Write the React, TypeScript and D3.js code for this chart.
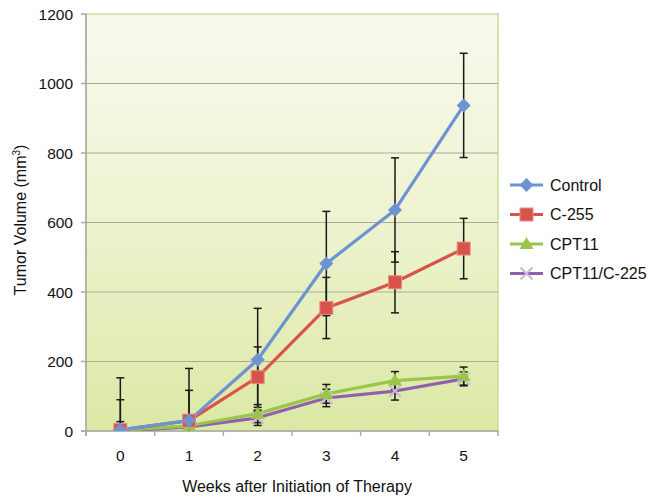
import React, { useEffect, useRef } from 'react';
import * as d3 from 'd3';

const weeks = ['0', '1', '2', '3', '4', '5'];
const seriesNames = ['Control', 'C-255', 'CPT11', 'CPT11/C-225'];
const controlValues = [3, 30, 205, 482, 636, 937];
const c255Values = [3, 30, 155, 354, 428, 525];
const cpt11Values = [2, 15, 50, 107, 145, 158];
const comboValues = [0, 12, 38, 95, 115, 150];
const controlErr = [150, 150, 148, 150, 150, 150];
const c255Err = [87, 87, 87, 88, 88, 87];
const cpt11Err = [25, 25, 26, 27, 26, 26];
const comboErr = [20, 20, 22, 25, 26, 20];
const yTicks = [0, 200, 400, 600, 800, 1000, 1200];

export default function App() {
  const svgRef = useRef<SVGSVGElement | null>(null);

  useEffect(() => {
    if (!svgRef.current) return;
    const width = 664;
    const height = 496;
    const left = 86, right = 498, top = 14, bottom = 431;

    const svg = d3.select(svgRef.current);
    svg.selectAll('*').remove();
    svg.attr('width', width).attr('height', height);

    const x = d3.scaleBand().domain(weeks).range([left, right]);
    const y = d3.scaleLinear().domain([0, 1200]).range([bottom, top]);
    const cx = (w: string) => (x(w) as number) + x.bandwidth() / 2;

    const defs = svg.append('defs');
    const grad = defs.append('linearGradient')
      .attr('id', 'bg').attr('x1', 0).attr('y1', 0).attr('x2', 0).attr('y2', 1);
    grad.append('stop').attr('offset', '0%').attr('stop-color', '#f8f9ee');
    grad.append('stop').attr('offset', '50%').attr('stop-color', '#eef3cf');
    grad.append('stop').attr('offset', '100%').attr('stop-color', '#dbe8a4');
    defs.append('clipPath').attr('id', 'plot')
      .append('rect').attr('x', left).attr('y', top - 2).attr('width', right - left).attr('height', bottom - top + 2);

    svg.append('rect')
      .attr('x', left).attr('y', top).attr('width', right - left).attr('height', bottom - top)
      .attr('fill', 'url(#bg)').attr('stroke', '#c8dc9a').attr('stroke-width', 1.5);

    // gridlines
    svg.append('g').selectAll('line').data(yTicks.filter(t => t > 0 && t < 1200)).enter()
      .append('line')
      .attr('x1', left).attr('x2', right)
      .attr('y1', d => y(d)).attr('y2', d => y(d))
      .attr('stroke', '#a8ab9c').attr('stroke-width', 1.2);

    // axes
    svg.append('line').attr('x1', left).attr('x2', left).attr('y1', top).attr('y2', bottom + 5)
      .attr('stroke', '#a9a9a9').attr('stroke-width', 1.5);
    svg.append('line').attr('x1', left - 5).attr('x2', right).attr('y1', bottom).attr('y2', bottom)
      .attr('stroke', '#a9a9a9').attr('stroke-width', 1.5);
    svg.append('g').selectAll('line').data(yTicks).enter().append('line')
      .attr('x1', left - 5).attr('x2', left).attr('y1', d => y(d)).attr('y2', d => y(d))
      .attr('stroke', '#a9a9a9').attr('stroke-width', 1.5);
    const bounds = weeks.map(w => x(w) as number).concat([right]);
    svg.append('g').selectAll('line').data(bounds).enter().append('line')
      .attr('x1', d => d).attr('x2', d => d).attr('y1', bottom).attr('y2', bottom + 5)
      .attr('stroke', '#a9a9a9').attr('stroke-width', 1.5);

    const font = "'Liberation Sans', Arial, sans-serif";
    svg.append('g').selectAll('text').data(yTicks).enter().append('text')
      .attr('x', 73).attr('y', d => y(d)).attr('dy', '0.36em')
      .attr('text-anchor', 'end').attr('font-family', font).attr('font-size', 15.5).attr('fill', '#111')
      .text(d => String(d));
    svg.append('g').selectAll('text').data(weeks).enter().append('text')
      .attr('x', d => cx(d)).attr('y', 455).attr('dy', '0.36em')
      .attr('text-anchor', 'middle').attr('font-family', font).attr('font-size', 15.5).attr('fill', '#111')
      .text(d => d);

    svg.append('text').attr('x', 297).attr('y', 486).attr('dy', '0.35em')
      .attr('text-anchor', 'middle').attr('font-family', font).attr('font-size', 16).attr('fill', '#111')
      .text('Weeks after Initiation of Therapy');
    const yl = svg.append('text').attr('transform', 'translate(20,220) rotate(-90)')
      .attr('text-anchor', 'middle').attr('dy', '0.35em')
      .attr('font-family', font).attr('font-size', 16).attr('fill', '#111');
    yl.append('tspan').text('Tumor Volume (mm');
    yl.append('tspan').attr('font-size', 10).attr('dy', '-0.6em').text('3');
    yl.append('tspan').attr('dy', '0.38em').text(')');

    const series = [
      { name: seriesNames[0], values: controlValues, err: controlErr, color: '#6d93d3', marker: 'diamond' },
      { name: seriesNames[1], values: c255Values, err: c255Err, color: '#d9534b', marker: 'square' },
      { name: seriesNames[2], values: cpt11Values, err: cpt11Err, color: '#99c64a', marker: 'triangle' },
      { name: seriesNames[3], values: comboValues, err: comboErr, color: '#9060ad', marker: 'x' },
    ];

    const drawMarker = (g: any, type: string, px: number, py: number, color: string) => {
      if (type === 'diamond') {
        g.append('path').attr('d', `M${px},${py - 7}L${px + 7},${py}L${px},${py + 7}L${px - 7},${py}Z`).attr('fill', color);
      } else if (type === 'square') {
        g.append('rect').attr('x', px - 6.5).attr('y', py - 6.5).attr('width', 13).attr('height', 13)
          .attr('fill', color).attr('stroke', '#e88d87').attr('stroke-width', 1);
      } else if (type === 'triangle') {
        g.append('path').attr('d', `M${px},${py - 7}L${px + 7},${py + 5}L${px - 7},${py + 5}Z`).attr('fill', color);
      } else {
        g.append('path').attr('d', `M${px - 6},${py - 6}L${px + 6},${py + 6}M${px - 6},${py + 6}L${px + 6},${py - 6}`)
          .attr('stroke', '#c9b6d8').attr('stroke-width', 2);
      }
    };

    const plot = svg.append('g').attr('clip-path', 'url(#plot)');

    // error bars
    series.forEach(s => {
      const eg = plot.append('g');
      weeks.forEach((w, i) => {
        const hi = y(s.values[i] + s.err[i]);
        const lo = y(s.values[i] - s.err[i]);
        const px = cx(w);
        eg.append('line').attr('x1', px).attr('x2', px).attr('y1', hi).attr('y2', lo)
          .attr('stroke', '#1a1a1a').attr('stroke-width', 1.5);
        [hi, lo].forEach(v => {
          eg.append('line').attr('x1', px - 4).attr('x2', px + 4).attr('y1', v).attr('y2', v)
            .attr('stroke', '#1a1a1a').attr('stroke-width', 1.5);
        });
      });
    });

    const line = d3.line<number>().x((_, i) => cx(weeks[i])).y(d => y(d));
    [...series].reverse().forEach(s => {
      plot.append('path').datum(s.values).attr('d', line).attr('fill', 'none')
        .attr('stroke', s.color).attr('stroke-width', 3.2).attr('stroke-linejoin', 'round');
    });
    [...series].reverse().forEach(s => {
      const mg = plot.append('g');
      s.values.forEach((v, i) => drawMarker(mg, s.marker, cx(weeks[i]), y(v), s.color));
    });

    // legend
    const lg = svg.append('g');
    series.forEach((s, i) => {
      const ly = 185 + i * 29.5;
      lg.append('line').attr('x1', 510).attr('x2', 543).attr('y1', ly).attr('y2', ly)
        .attr('stroke', s.color).attr('stroke-width', 3.2);
      drawMarker(lg, s.marker, 526.5, ly, s.color);
      lg.append('text').attr('x', 550).attr('y', ly).attr('dy', '0.35em')
        .attr('font-family', font).attr('font-size', 16).attr('fill', '#111').text(s.name);
    });
  }, []);

  return <svg ref={svgRef} style={{ position: 'absolute', left: 0, top: 0 }}></svg>;
}
